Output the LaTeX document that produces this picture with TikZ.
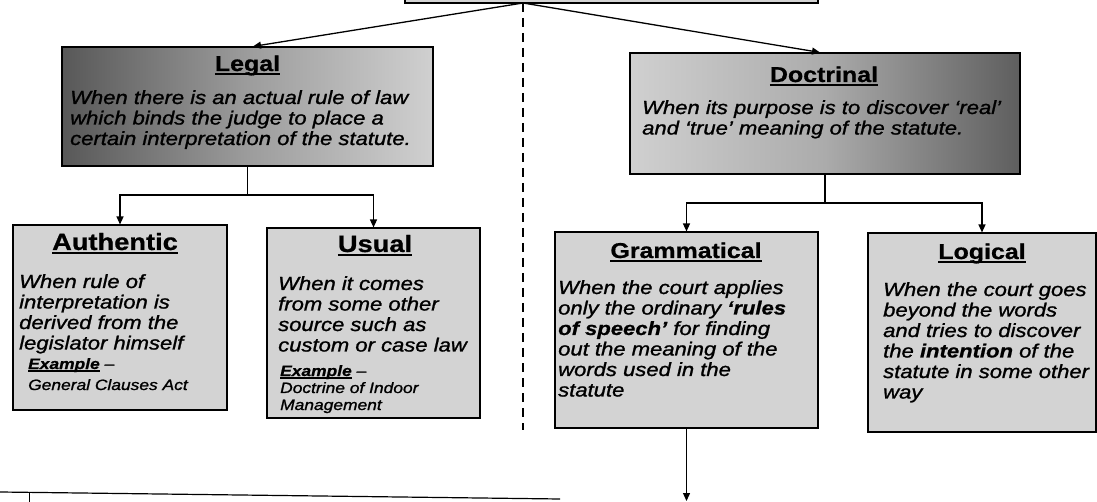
\documentclass[tikz,border=0pt]{standalone}
\usepackage{fontspec}
\setmainfont{Liberation Sans}[FakeStretch=1.16, ItalicFeatures={FakeBold=1.2}, BoldFeatures={FakeBold=0.8}, BoldItalicFeatures={FakeBold=0.8}]
\usetikzlibrary{arrows.meta}

\definecolor{boxgray}{HTML}{D3D3D3}
\definecolor{legaldark}{HTML}{585858}
\definecolor{legalmid}{HTML}{9C9C9C}
\definecolor{legallight}{HTML}{D0D0D0}
\definecolor{doctlight}{HTML}{D0D0D0}
\definecolor{doctmid}{HTML}{ABABAB}
\definecolor{doctdark}{HTML}{5E5E5E}

% underlined word: #1 = rule depth, #2 = rule thickness, #3 = text
\newcommand\ulbox[3]{\setbox0=\hbox{#3}\rlap{\rule[#1]{\wd0}{#2}}\box0}
% left-aligned stack of lines whose base is the first baseline
\newcommand\rows[1]{\vtop{\halign{##\hfil\cr#1\crcr}}}

\tikzset{
  boxframe/.style={draw=black, line width=1.1pt, inner sep=0pt},
  plainbox/.style={boxframe, fill=boxgray},
  legalbox/.style={boxframe, left color=legaldark, right color=legallight, middle color=legalmid},
  doctbox/.style={boxframe, left color=doctlight, right color=doctdark, middle color=doctmid},
  conn/.style={line width=1.3pt},
  arr/.style={conn, -{Triangle[length=8pt,width=7pt]}},
  divider/.style={line width=2.6pt, dash pattern=on 9pt off 6pt},
  titletext/.style={anchor=base, inner sep=0pt, font=\fontsize{21.5}{24}\selectfont\bfseries},
  bigtitle/.style={titletext, font=\fontsize{23.5}{26}\selectfont\bfseries},
  bodytext/.style={anchor=base west, inner sep=0pt, font=\fontsize{19}{20.5}\selectfont\itshape},
  extext/.style={anchor=base west, inner sep=0pt, font=\fontsize{15}{17}\selectfont\itshape},
}

\begin{document}
\begin{tikzpicture}[x=1pt,y=-1pt]
\useasboundingbox (0,0) rectangle (1097,502);
\clip (0,0) rectangle (1097,502);
\fill[white] (0,0) rectangle (1097,502);

% heading box, only its lower edge lies on the page
\node[plainbox, minimum width=413pt, minimum height=40pt] (head) at (611.5,-17) {};
\coordinate (apex) at (523,3);

% boxes
\node[legalbox, minimum width=371pt, minimum height=119pt] (legal) at (247.5,106.5) {};
\node[doctbox, minimum width=390pt, minimum height=121pt] (doct) at (825,113.5) {};
\node[plainbox, minimum width=214pt, minimum height=185pt] (auth) at (120,317.5) {};
\node[plainbox, minimum width=213pt, minimum height=190pt] (usual) at (373.5,323) {};
\node[plainbox, minimum width=263pt, minimum height=196pt] (gram) at (686.5,330) {};
\node[plainbox, minimum width=228pt, minimum height=199pt] (logic) at (982,332.5) {};

% connectors from the heading
\draw[arr] (apex) -- ([xshift=5.5pt]legal.north);
\draw[arr] (apex) -- ([xshift=-5pt]doct.north);
\coordinate (dashend) at (523,430);
\draw[divider] (apex) -- (dashend);

% legal branch
\coordinate (lj) at (247.5,195);
\draw[conn] (legal.south) -- (lj);
\draw[arr] (lj) -| (auth.north);
\draw[arr] (lj) -| (usual.north);

% doctrinal branch
\coordinate (dj) at (825,203);
\draw[conn] (doct.south) -- (dj);
\draw[arr] (dj) -| (gram.north);
\draw[arr] (dj) -| (logic.north);

% continuation below grammatical
\coordinate (gend) at (688,501);
\draw[arr] (gram.south) -- (gram.south |- gend);

% ruled line at the foot of the page
\coordinate (ruleL) at (0,492);
\coordinate (ruleR) at (560,499);
\draw[line width=1.2pt] (ruleL) -- (ruleR);
\coordinate (tickT) at (29,492);
\coordinate (tickB) at (29,502);
\draw[line width=1pt] (tickT) -- (tickB);

% texts: legal
\node[titletext] (legalT) at (247.5,71) {\ulbox{-4pt}{2pt}{Legal}};
\node[bodytext] (legalB) at (70,104) {\rows{When there is an actual rule of law\cr
  which binds the judge to place a\cr
  certain interpretation of the statute.}};

% texts: doctrinal
\node[titletext] (doctT) at (824,82) {\ulbox{-4pt}{2pt}{Doctrinal}};
\node[bodytext] (doctB) at (642,114) {\rows{When its purpose is to discover ‘real’\cr
  and ‘true’ meaning of the statute.}};

% texts: authentic
\node[bigtitle] (authT) at (115,250) {\ulbox{-4pt}{2pt}{Authentic}};
\node[bodytext] (authB) at (19,288) {\rows{When rule of\cr
  interpretation is\cr
  derived from the\cr
  legislator himself}};
\node[extext, font=\fontsize{15}{21}\selectfont\itshape] (authE) at (28,369) {\rows{{\bfseries\ulbox{-2.5pt}{1.2pt}{Example}} –\cr
  General Clauses Act}};

% texts: usual
\node[bigtitle] (usualT) at (375,252) {\ulbox{-4pt}{2pt}{Usual}};
\node[bodytext] (usualB) at (278,290) {\rows{When it comes\cr
  from some other\cr
  source such as\cr
  custom or case law}};
\node[extext] (usualE) at (280,376) {\rows{{\bfseries\ulbox{-2.5pt}{1.2pt}{Example}} –\cr
  Doctrine of Indoor\cr
  Management}};

% texts: grammatical
\node[titletext] (gramT) at (686,258) {\ulbox{-4pt}{2pt}{Grammatical}};
\node[bodytext] (gramB) at (558,294) {\rows{When the court applies\cr
  only the ordinary {\bfseries ‘rules}\cr
  {\bfseries of speech’} for finding\cr
  out the meaning of the\cr
  words used in the\cr
  statute}};

% texts: logical
\node[titletext] (logicT) at (982,259) {\ulbox{-4pt}{2pt}{Logical}};
\node[bodytext] (logicB) at (883,296) {\rows{When the court goes\cr
  beyond the words\cr
  and tries to discover\cr
  the {\bfseries intention} of the\cr
  statute in some other\cr
  way}};
\end{tikzpicture}
\end{document}
